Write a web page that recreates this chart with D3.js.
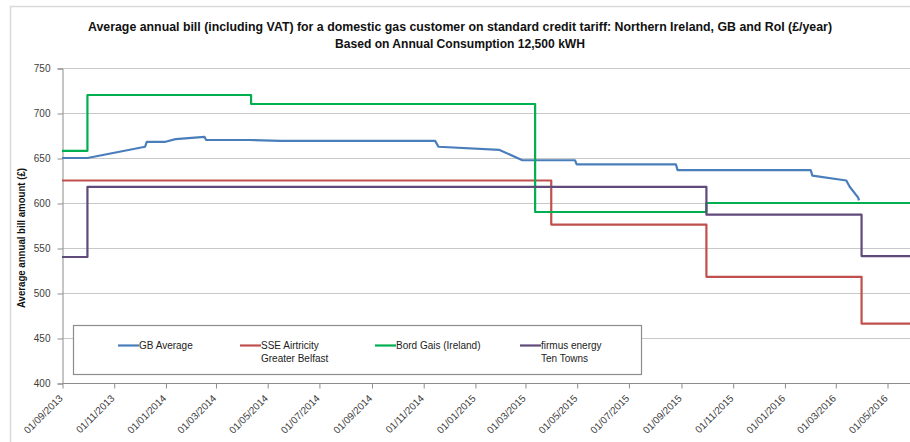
<!DOCTYPE html>
<html>
<head>
<meta charset="utf-8">
<script src="https://cdn.jsdelivr.net/npm/d3@7"></script>
<style>
  body { margin: 0; background: #fff; }
  svg { display: block; }
</style>
</head>
<body>
<svg id="chart" width="910" height="442"></svg>
<script>
// ---- text ----
const titleLines = [
  "Average annual bill (including VAT) for a domestic gas customer on standard credit tariff:  Northern Ireland, GB and RoI (£/year)",
  "Based on Annual Consumption 12,500 kWH"
];
const yAxisLabel = "Average annual bill amount (£)";

// ---- axes ----
const yTickValues = [400, 450, 500, 550, 600, 650, 700, 750];
const xTickDates = [
  "2013-09-01", "2013-11-01", "2014-01-01", "2014-03-01", "2014-05-01",
  "2014-07-01", "2014-09-01", "2014-11-01", "2015-01-01", "2015-03-01",
  "2015-05-01", "2015-07-01", "2015-09-01", "2015-11-01", "2016-01-01",
  "2016-03-01", "2016-05-01"
];
const xDomain = ["2013-09-01", "2016-07-01"];

// ---- series ----
const seriesNames = ["GB Average", "SSE Airtricity\nGreater Belfast", "Bord Gais (Ireland)", "firmus energy\nTen Towns"];

// GB average: observed points joined by straight segments
const gbDates = [
  "2013-09-01", "2013-10-01", "2013-12-08", "2013-12-10", "2014-01-01",
  "2014-01-13", "2014-02-16", "2014-02-18", "2014-04-10", "2014-05-16",
  "2014-11-15", "2014-11-19", "2015-01-30", "2015-02-26", "2015-04-29",
  "2015-05-01", "2015-08-26", "2015-08-28", "2016-02-01", "2016-02-03",
  "2016-03-14", "2016-03-18", "2016-03-28", "2016-03-29"
];
const gbValues = [
  650, 650, 662.5, 668, 668,
  671, 673.5, 670, 670, 669,
  669, 662.5, 659, 647.5, 647.5,
  643, 643, 636.5, 636.5, 630.5,
  625, 618, 606, 603
];

// Tariff series: value applies from each date until the next one
const sseDates = ["2013-09-01", "2015-04-01", "2015-10-01", "2016-04-01", "2016-07-01"];
const sseValues = [625, 576, 518, 466, 466];

const bordGaisDates = ["2013-09-01", "2013-10-01", "2014-04-12", "2015-03-13", "2015-10-01", "2016-07-01"];
const bordGaisValues = [658, 720, 710, 590, 600, 600];

const firmusDates = ["2013-09-01", "2013-10-01", "2015-10-01", "2016-04-01", "2016-07-01"];
const firmusValues = [540, 618, 587, 541, 541];

const seriesColors = ["#4a7ebb", "#c0504d", "#00b050", "#604a7b"];

// ---- drawing ----
const parse = d3.utcParse("%Y-%m-%d");
const fmt = d3.utcFormat("%d/%m/%Y");
const svg = d3.select("#chart");
const font = "'Liberation Sans', Arial, sans-serif";

const plot = { left: 62, top: 68, bottom: 383 };
const dayPx = 0.8479;
const d0 = parse(xDomain[0]), d1 = parse(xDomain[1]);
const x = d3.scaleUtc()
  .domain([d0, d1])
  .range([plot.left, plot.left + d3.utcDay.count(d0, d1) * dayPx]);
const y = d3.scaleLinear().domain([400, 750]).range([plot.bottom, plot.top]);

// outer frame
svg.append("path")
  .attr("d", "M10.5,442 V6.5 H910")
  .attr("fill", "none").attr("stroke", "#d9d9d9").attr("stroke-width", 1.5);

// title
svg.append("g").selectAll("text").data(titleLines).join("text")
  .attr("x", 460).attr("y", (d, i) => 31 + i * 17)
  .attr("text-anchor", "middle")
  .attr("font-family", "'Liberation Sans Narrow', 'Arial Narrow', " + font)
  .attr("font-weight", "bold").attr("font-size", 12.5).attr("fill", "#111")
  .attr("textLength", (d, i) => i === 0 ? 744 : 250)
  .attr("lengthAdjust", "spacingAndGlyphs")
  .text(d => d);

// horizontal gridlines
svg.append("g").selectAll("line").data(yTickValues.filter(v => v > 400)).join("line")
  .attr("x1", plot.left).attr("x2", 910)
  .attr("y1", d => y(d) + 0.5).attr("y2", d => y(d) + 0.5)
  .attr("stroke", "#c8c8c8").attr("stroke-width", 1);

// y axis
const yAxis = svg.append("g").attr("transform", `translate(${plot.left + 0.5},0.5)`)
  .call(d3.axisLeft(y).tickValues(yTickValues).tickSize(5).tickPadding(7));
yAxis.select(".domain").attr("stroke", "#8c8c8c");
yAxis.selectAll(".tick line").attr("stroke", "#8c8c8c");
yAxis.selectAll(".tick text").attr("font-family", font).attr("font-size", 10).attr("fill", "#404040");

// x axis
const xAxis = svg.append("g").attr("transform", `translate(0.5,${plot.bottom + 0.5})`)
  .call(d3.axisBottom(x).tickValues(xTickDates.map(parse)).tickFormat(fmt).tickSize(5).tickSizeOuter(0));
xAxis.select(".domain").attr("stroke", "#8c8c8c").attr("d", `M${plot.left},0H910`);
xAxis.selectAll(".tick line").attr("stroke", "#8c8c8c");
xAxis.selectAll(".tick text")
  .attr("font-family", font).attr("font-size", 10).attr("fill", "#404040")
  .attr("text-anchor", "end")
  .attr("x", 0).attr("y", 0).attr("dy", "0.35em")
  .attr("transform", "translate(-2,13) rotate(-45)");

// y axis title
svg.append("text")
  .attr("transform", "translate(25,238) rotate(-90)")
  .attr("text-anchor", "middle")
  .attr("font-family", font).attr("font-weight", "bold").attr("font-size", 10)
  .attr("fill", "#111")
  .attr("textLength", 140).attr("lengthAdjust", "spacingAndGlyphs")
  .text(yAxisLabel);

// series lines
const series = [
  { dates: gbDates, values: gbValues, curve: d3.curveLinear },
  { dates: sseDates, values: sseValues, curve: d3.curveStepAfter },
  { dates: bordGaisDates, values: bordGaisValues, curve: d3.curveStepAfter },
  { dates: firmusDates, values: firmusValues, curve: d3.curveStepAfter }
];
const gLines = svg.append("g");
series.forEach((s, i) => {
  const pts = s.dates.map((d, k) => [parse(d), s.values[k]]);
  const line = d3.line().x(p => x(p[0])).y(p => y(p[1])).curve(s.curve);
  gLines.append("path")
    .attr("d", line(pts))
    .attr("fill", "none")
    .attr("stroke", seriesColors[i])
    .attr("stroke-width", 2.2)
    .attr("stroke-linejoin", "round");
});

// legend
const legend = svg.append("g");
legend.append("rect")
  .attr("x", 73.5).attr("y", 325.5).attr("width", 568).attr("height", 49)
  .attr("fill", "#fff").attr("stroke", "#8c8c8c").attr("stroke-width", 1.2);
const legendX = [118, 240, 375, 520];
seriesNames.forEach((name, i) => {
  const g = legend.append("g").attr("transform", `translate(${legendX[i]},0)`);
  g.append("line").attr("x1", 0).attr("x2", 21).attr("y1", 345.5).attr("y2", 345.5)
    .attr("stroke", seriesColors[i]).attr("stroke-width", 2.2);
  const t = g.append("text").attr("x", 21).attr("y", 349)
    .attr("font-family", font).attr("font-size", 10).attr("fill", "#222");
  name.split("\n").forEach((ln, k) => {
    t.append("tspan").attr("x", 21).attr("dy", k === 0 ? 0 : 12.5).text(ln);
  });
});
</script>
</body>
</html>
